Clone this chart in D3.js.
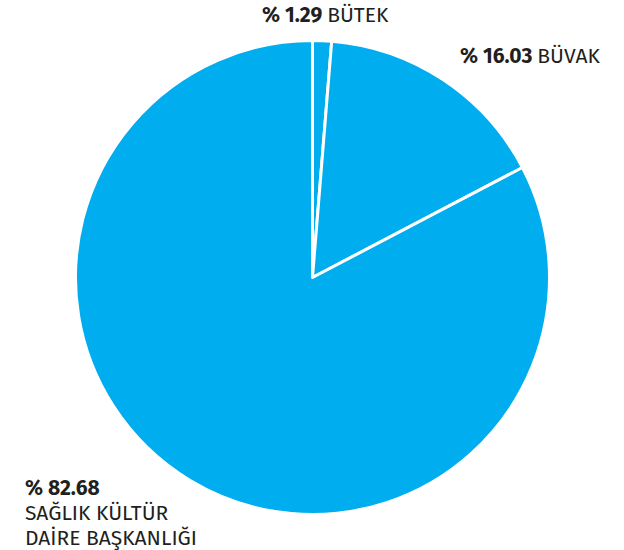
<!DOCTYPE html>
<html><head><meta charset="utf-8">
<script src="https://cdn.jsdelivr.net/npm/d3@7"></script>
<style>body{margin:0;background:#fff}svg{display:block}</style>
</head><body>
<svg id="c" width="624" height="550"></svg>
<script>
const categories = ["BÜTEK", "BÜVAK", "SAĞLIK KÜLTÜR DAİRE BAŞKANLIĞI"];
const values = [1.29, 16.03, 82.68];
const percentLabels = ["% 1.29", "% 16.03", "% 82.68"];

const svg = d3.select("#c");
const cx = 312.5, cy = 277.5, r = 237;
const g = svg.append("g").attr("transform", `translate(${cx},${cy})`);
const pie = d3.pie().sort(null).value(d => d);
const arc = d3.arc().innerRadius(0).outerRadius(r);
const arcs = pie(values);
g.selectAll("path").data(arcs).join("path")
  .attr("d", arc).attr("fill", "#00adef")
  .attr("stroke", "#fff").attr("stroke-width", 3).attr("stroke-linejoin", "round");

const font = "'Fira Sans','Open Sans','Noto Sans',sans-serif";
const col = "#231f20";
const fs = 21;
function label(x, y, pct, name) {
  const t = svg.append("text").attr("x", x).attr("y", y)
    .attr("font-family", font).attr("font-size", fs).attr("fill", col);
  t.append("tspan").attr("font-weight", "bold").text(pct + " ");
  t.append("tspan").text(name);
}
label(262, 22, percentLabels[0], categories[0]);
label(460, 63, percentLabels[1], categories[1]);
const t3 = svg.append("text").attr("font-family", font).attr("font-size", fs).attr("fill", col);
t3.append("tspan").attr("x", 25).attr("y", 495).attr("font-weight", "bold").text(percentLabels[2]);
t3.append("tspan").attr("x", 25).attr("y", 520).text("SAĞLIK KÜLTÜR");
t3.append("tspan").attr("x", 25).attr("y", 545).text("DAİRE BAŞKANLIĞI");
</script>
</body></html>
